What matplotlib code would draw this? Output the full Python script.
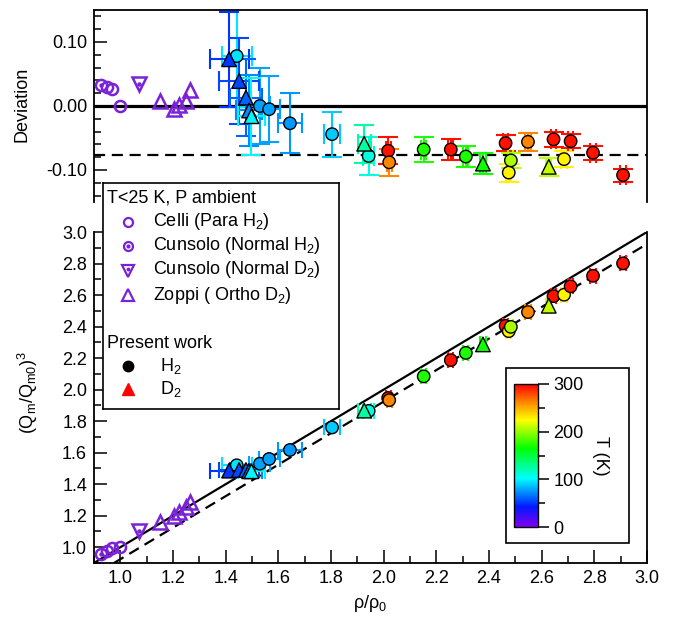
import matplotlib
matplotlib.use("Agg")
import matplotlib.pyplot as plt
from matplotlib.colors import LinearSegmentedColormap, Normalize
from matplotlib.cm import ScalarMappable
from matplotlib.patches import Rectangle
from matplotlib.ticker import MultipleLocator, FuncFormatter, FormatStrFormatter

plt.rcParams["font.family"] = ["Liberation Sans", "DejaVu Sans"]
plt.rcParams["mathtext.default"] = "regular"
plt.rcParams["axes.unicode_minus"] = False
plt.rcParams["font.size"] = 13

# ---------------- low temperature references (T<25 K, ambient P) ----------------
celli_rho = [0.948, 0.969, 1.000]
celli_dev = [0.029, 0.027, 0.000]
celli_q3 = [0.977, 0.996, 1.000]

cunsolo_h2_rho = [0.925]
cunsolo_h2_dev = [0.033]
cunsolo_h2_q3 = [0.958]

cunsolo_d2_rho = [1.072]
cunsolo_d2_dev = [0.034]
cunsolo_d2_q3 = [1.106]

zoppi_rho = [1.152, 1.205, 1.224, 1.249, 1.265]
zoppi_dev = [0.008, -0.005, 0.002, 0.008, 0.025]
zoppi_q3 = [1.160, 1.200, 1.226, 1.257, 1.290]

# ---------------- present work, H2 ----------------
h2_rho = [1.442, 1.530, 1.565, 1.644, 1.804, 1.943, 2.017, 2.021, 2.152, 2.255,
          2.312, 2.463, 2.475, 2.483, 2.548, 2.645, 2.685, 2.710, 2.795, 2.909]
h2_dev = [0.078, 0.000, -0.005, -0.027, -0.044, -0.078, -0.070, -0.088, -0.068, -0.068,
          -0.079, -0.058, -0.104, -0.085, -0.056, -0.052, -0.083, -0.055, -0.073, -0.108]
h2_q3 = [1.520, 1.530, 1.560, 1.617, 1.760, 1.865, 1.947, 1.933, 2.084, 2.187,
         2.233, 2.405, 2.371, 2.398, 2.492, 2.593, 2.602, 2.655, 2.722, 2.801]
h2_temp = [95, 78, 78, 75, 88, 110, 295, 262, 172, 295,
           172, 295, 228, 205, 262, 295, 228, 295, 295, 295]
h2_rho_err = [0.057, 0.040, 0.040, 0.045, 0.030, 0.020, 0.010, 0.010, 0.010, 0.010,
              0.010, 0.010, 0.010, 0.010, 0.010, 0.010, 0.010, 0.010, 0.010, 0.010]
h2_dev_err = [0.080, 0.059, 0.052, 0.047, 0.035, 0.030, 0.021, 0.021, 0.020, 0.016,
              0.017, 0.013, 0.014, 0.012, 0.014, 0.012, 0.012, 0.011, 0.011, 0.010]

# ---------------- present work, D2 ----------------
d2_rho = [1.413, 1.451, 1.477, 1.489, 1.498, 1.926, 2.377, 2.627]
d2_dev = [0.073, 0.039, 0.013, -0.007, -0.016, -0.059, -0.090, -0.095]
d2_q3 = [1.486, 1.490, 1.490, 1.482, 1.482, 1.867, 2.287, 2.532]
d2_temp = [50, 55, 62, 72, 100, 125, 168, 210]
d2_rho_err = [0.074, 0.076, 0.060, 0.050, 0.050, 0.025, 0.010, 0.010]
d2_dev_err = [0.074, 0.067, 0.060, 0.055, 0.060, 0.030, 0.016, 0.014]

# mean offset of the high density points
dev_offset = -0.076

cbar_ticks = [0, 100, 200, 300]

PURPLE = "#7a22d8"
cmap = LinearSegmentedColormap.from_list(
    "temp",
    [(0.0, "#8000f0"), (0.14, "#0018ff"), (0.34, "#00ffff"), (0.55, "#00ff00"),
     (0.75, "#ffff00"), (0.88, "#ff8000"), (1.0, "#ff0000")])
norm = Normalize(0, 300)

W, H = 675, 620
fig = plt.figure(figsize=(W / 100, H / 100), dpi=100)


def fig_box(x0, y0, x1, y1):
    # pixel box (top-left origin) -> figure fraction rect
    return [x0 / W, 1 - y1 / H, (x1 - x0) / W, (y1 - y0) / H]


ax_top = fig.add_axes(fig_box(94, 10, 647, 202))
ax_bot = fig.add_axes(fig_box(94, 232, 647, 563))


def style_axes(ax):
    for s in ax.spines.values():
        s.set_linewidth(1.3)
    ax.tick_params(which="both", direction="in", width=1.1, right=False, top=False)
    ax.tick_params(which="major", length=9.5, pad=5)
    ax.tick_params(which="minor", length=5)


def draw_present(ax, rho, val, rho_err, val_err, temps, marker, size, capsize=7):
    for i in range(len(rho)):
        ax.errorbar(rho[i], val[i], xerr=rho_err[i],
                    yerr=None if val_err is None else val_err[i],
                    fmt="none", ecolor=cmap(norm(temps[i])), elinewidth=1.5,
                    capsize=capsize, capthick=1.5, zorder=2)
    ax.scatter(rho, val, c=temps, cmap=cmap, norm=norm, marker=marker, s=size,
               edgecolors="black", linewidths=1.0, zorder=3)


def draw_reference(ax, c_rho, c_val, ch_rho, ch_val, cd_rho, cd_val, z_rho, z_val):
    kw = dict(ls="none", mfc="none", mec=PURPLE, mew=1.8, zorder=3)
    ax.plot(c_rho, c_val, marker="o", ms=8, **kw)
    ax.plot(ch_rho, ch_val, marker="o", ms=8, **kw)
    ax.plot(ch_rho, ch_val, ls="none", marker="o", ms=2.2, color=PURPLE, zorder=3)
    ax.plot(cd_rho, cd_val, marker="v", ms=10, **kw)
    ax.plot(cd_rho, cd_val, ls="none", marker="o", ms=2.2, color=PURPLE, zorder=3)
    ax.plot(z_rho, z_val, marker="^", ms=10, **kw)


# ---------------- deviation panel ----------------
ax_top.set_xlim(0.9, 3.0)
ax_top.set_ylim(-0.15, 0.15)
ax_top.spines["bottom"].set_visible(False)
style_axes(ax_top)
ax_top.tick_params(axis="x", which="both", bottom=False, labelbottom=False)
ax_top.yaxis.set_major_locator(MultipleLocator(0.1))
ax_top.yaxis.set_minor_locator(MultipleLocator(0.02))
ax_top.yaxis.set_major_formatter(FuncFormatter(lambda v, p: f"{v:.2f}".replace("-0.00", "0.00")))
ax_top.axhline(0.0, color="black", lw=2.3, zorder=1)
ax_top.axhline(dev_offset, color="black", lw=1.6, ls=(0, (5, 3)), zorder=1)

draw_reference(ax_top, celli_rho, celli_dev, cunsolo_h2_rho, cunsolo_h2_dev,
               cunsolo_d2_rho, cunsolo_d2_dev, zoppi_rho, zoppi_dev)
draw_present(ax_top, h2_rho, h2_dev, h2_rho_err, h2_dev_err, h2_temp, "o", 80)
draw_present(ax_top, d2_rho, d2_dev, d2_rho_err, d2_dev_err, d2_temp, "^", 110)

# ---------------- (Qm/Qm0)^3 vs density ----------------
ax_bot.set_xlim(0.9, 3.0)
ax_bot.set_ylim(0.9, 3.0)
ax_bot.spines["top"].set_visible(False)
style_axes(ax_bot)
ax_bot.xaxis.set_major_locator(MultipleLocator(0.2))
ax_bot.xaxis.set_minor_locator(MultipleLocator(0.1))
ax_bot.yaxis.set_major_locator(MultipleLocator(0.2))
ax_bot.yaxis.set_minor_locator(MultipleLocator(0.1))
ax_bot.xaxis.set_major_formatter(FormatStrFormatter("%.1f"))
ax_bot.yaxis.set_major_formatter(FormatStrFormatter("%.1f"))
ax_bot.axline((1.0, 1.0), slope=1.0, color="black", lw=1.6, zorder=1)
ax_bot.axline((1.0, 1.0 + dev_offset), slope=1.0, color="black", lw=1.6,
              ls=(0, (5, 3)), zorder=1)

draw_reference(ax_bot, celli_rho, celli_q3, cunsolo_h2_rho, cunsolo_h2_q3,
               cunsolo_d2_rho, cunsolo_d2_q3, zoppi_rho, zoppi_q3)
draw_present(ax_bot, h2_rho, h2_q3, h2_rho_err, None, h2_temp, "o", 80, capsize=6)
draw_present(ax_bot, d2_rho, d2_q3, d2_rho_err, None, d2_temp, "^", 110, capsize=6)

fig.text(22 / W, 1 - 104 / H, "Deviation", rotation=90, ha="center", va="center")
fig.text(28 / W, 1 - 392 / H, "(Q$_m$/Q$_{m0}$)$^3$", rotation=90, ha="center", va="center")
fig.text(370 / W, 1 - 604 / H, "ρ/ρ$_0$", ha="center", va="center")

# ---------------- temperature colour bar in its own box ----------------
fig.patches.append(Rectangle((506 / W, 1 - 543 / H), 123 / W, 175 / H,
                             transform=fig.transFigure, fc="white", ec="black",
                             lw=1.2, zorder=2))
cax = fig.add_axes(fig_box(514, 384, 538, 527))
cax.set_zorder(3)
cbar = fig.colorbar(ScalarMappable(norm=norm, cmap=cmap), cax=cax, ticks=cbar_ticks)
cbar.outline.set_linewidth(1.0)
cax.yaxis.set_minor_locator(MultipleLocator(50))
cax.tick_params(which="major", length=8, width=1.1, pad=3)
cax.tick_params(which="minor", length=5, width=1.1)
cbar.set_label("T (K)", rotation=270, labelpad=18)

# ---------------- legend box ----------------
leg = fig.add_axes(fig_box(103, 183, 339, 409))
leg.set_zorder(4)
leg.set_xlim(103, 339)
leg.set_ylim(409, 183)
leg.set_xticks([])
leg.set_yticks([])
for s in leg.spines.values():
    s.set_linewidth(1.2)

leg.text(107, 198, "T<25 K, P ambient", va="center")
mk = dict(mfc="none", mec=PURPLE, mew=1.6)
leg.plot(128, 222, marker="o", ms=6.5, **mk)
leg.text(153, 222, "Celli (Para H$_2$)", va="center")
leg.plot(128, 246, marker="o", ms=6.5, **mk)
leg.plot(128, 246, marker="o", ms=2, color=PURPLE)
leg.text(153, 246, "Cunsolo (Normal H$_2$)", va="center")
leg.plot(128, 271, marker="v", ms=8, **mk)
leg.plot(128, 269, marker="o", ms=1.8, color=PURPLE)
leg.text(153, 270, "Cunsolo (Normal D$_2$)", va="center")
leg.plot(128, 295, marker="^", ms=8, **mk)
leg.text(153, 295, "Zoppi ( Ortho D$_2$)", va="center")
leg.text(107, 343, "Present work", va="center")
leg.plot(128, 366, marker="o", ms=7.5, color="black")
leg.text(160, 366, "H$_2$", va="center")
leg.plot(128, 389, marker="^", ms=8.5, color="red")
leg.text(160, 389, "D$_2$", va="center")

fig.savefig("out.png", dpi=100)
